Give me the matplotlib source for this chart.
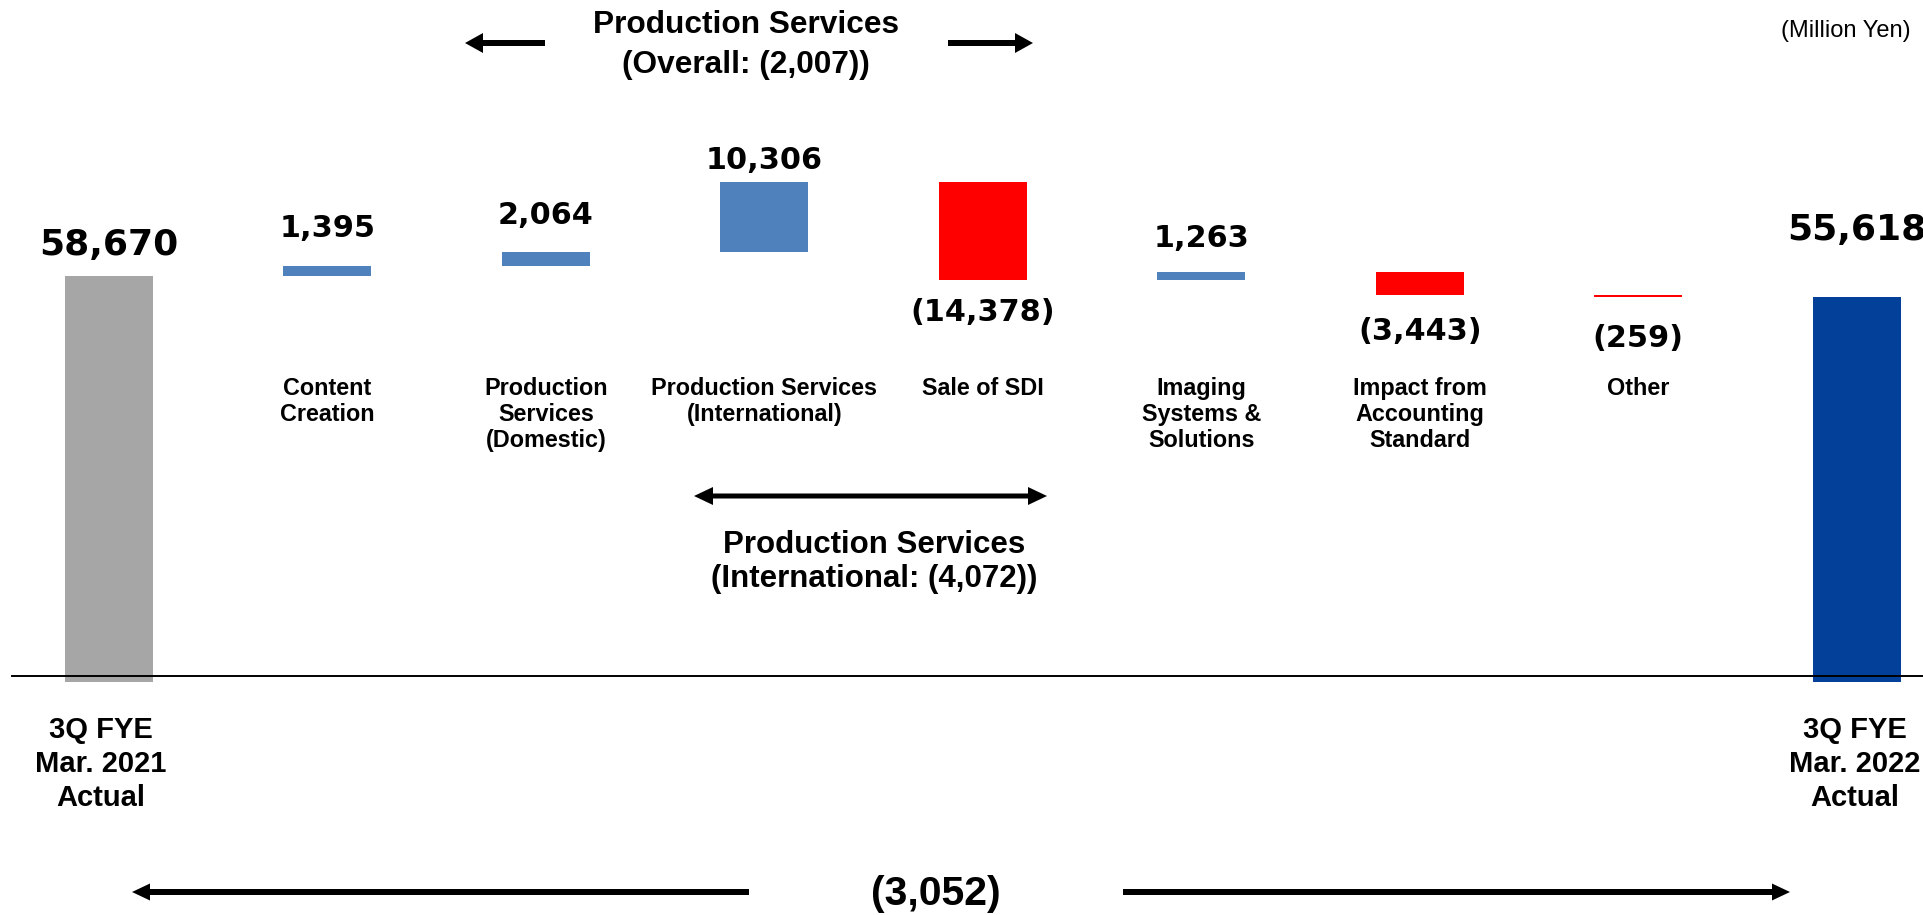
import matplotlib
matplotlib.use("Agg")
import matplotlib.pyplot as plt
from matplotlib.patches import FancyArrow, Polygon
import numpy as np

# ---------------- data ----------------
start_label = ["3Q FYE", "Mar. 2021", "Actual"]
end_label = ["3Q FYE", "Mar. 2022", "Actual"]
start_value = 58670
end_value = 55618
step_categories = [
    ["Content", "Creation"],
    ["Production", "Services", "(Domestic)"],
    ["Production Services", "(International)"],
    ["Sale of SDI"],
    ["Imaging", "Systems &", "Solutions"],
    ["Impact from", "Accounting", "Standard"],
    ["Other"],
]
step_values = [1395, 2064, 10306, -14378, 1263, -3443, -259]
overall_title = ["Production Services", "(Overall: (2,007))"]
intl_title = ["Production Services", "(International: (4,072))"]
total_change_label = "(3,052)"
unit_label = "(Million Yen)"

# ---------------- style ----------------
W, H, DPI = 1924, 915, 100
C_START = "#A6A6A6"
C_END = "#02409A"
C_UP = "#4F81BD"
C_DOWN = "#FF0000"
ARIAL = ["Liberation Sans", "DejaVu Sans"]
VERDANA = ["DejaVu Sans"]

PX_PER_X = 218.45          # px between bar centres
X0_PX = 109                # px of first bar centre
BASE_PX = 676              # baseline, px from top
PX_PER_VAL = 400 / 58670   # px per million yen
BAR_W = 0.403
OVERHANG = 6 / PX_PER_VAL  # total bars run a little below the baseline
# label baseline offsets (px) from bar end; positive = above the top
label_offsets_px = [21, 29.5, 28, 13.5, -40.7, 24.3, -45, -50, 56.7]


def fmt(v):
    return f"{v:,}" if v >= 0 else f"({-v:,})"


fig = plt.figure(figsize=(W / DPI, H / DPI), dpi=DPI)
fig.patch.set_facecolor("white")
ax = fig.add_axes([0, 0, 1, 1])
ax.set_xlim(-X0_PX / PX_PER_X, (W - X0_PX) / PX_PER_X)
ax.set_ylim(-(H - BASE_PX) / PX_PER_VAL, BASE_PX / PX_PER_VAL)
ax.axis("off")

pax = fig.add_axes([0, 0, 1, 1], zorder=3)
pax.set_xlim(0, W)
pax.set_ylim(H, 0)
pax.axis("off")
pax.patch.set_alpha(0)

n_steps = len(step_values)
xs = np.arange(n_steps + 2)

# waterfall geometry
cum = start_value + np.cumsum(step_values)
prev = np.concatenate([[start_value], cum[:-1]])
bottoms = np.minimum(prev, cum)
heights = np.abs(step_values)
colors = [C_UP if v > 0 else C_DOWN for v in step_values]

ax.bar(xs[0], start_value + OVERHANG, bottom=-OVERHANG, width=BAR_W,
       color=C_START, linewidth=0, zorder=2)
ax.bar(xs[1:-1], heights, bottom=bottoms, width=BAR_W, color=colors,
       linewidth=0, zorder=2)
ax.bar(xs[-1], end_value + OVERHANG, bottom=-OVERHANG, width=BAR_W,
       color=C_END, linewidth=0, zorder=2)

# baseline
pax.plot([12, W], [BASE_PX, BASE_PX], color="black", lw=1.4, zorder=4)

# value labels
all_vals = [start_value] + step_values + [end_value]
anchors = [start_value] + [max(p, c) if v > 0 else min(p, c)
                           for p, c, v in zip(prev, cum, step_values)] + [end_value]
for i, (v, a, off) in enumerate(zip(all_vals, anchors, label_offsets_px)):
    big = i in (0, len(all_vals) - 1)
    ax.annotate(fmt(v), xy=(xs[i], a), xytext=(0, off * 0.72),
                textcoords="offset points", ha="center", va="baseline",
                fontsize=26 if big else 21.8, fontweight="bold",
                family=VERDANA, color="black", zorder=5)

# category labels
xt = ax.get_xaxis_transform()
for i, lines in enumerate(step_categories):
    for j, line in enumerate(lines):
        ax.text(xs[i + 1], 1 - (395 + 26 * j) / H, line, transform=xt,
                ha="center", va="baseline", fontsize=16.8,
                fontweight="bold", family=ARIAL)

# start / end labels
for cx, lines in ((101, start_label), (1855, end_label)):
    for j, line in enumerate(lines):
        pax.text(cx, 738 + 33.8 * j, line, ha="center", va="baseline",
                 fontsize=21, fontweight="bold", family=ARIAL)

# annotations
for j, line in enumerate(overall_title):
    pax.text(746, [33.3, 72.7][j], line, ha="center", va="baseline",
             fontsize=22.8, fontweight="bold", family=ARIAL)
for j, line in enumerate(intl_title):
    pax.text(874, [553, 587][j], line, ha="center", va="baseline",
             fontsize=22.5, fontweight="bold", family=ARIAL)
pax.text(936, 905, total_change_label, ha="center", va="baseline",
         fontsize=29.5, fontweight="bold", family=ARIAL)
pax.text(1846, 36.5, unit_label, ha="center", va="baseline",
         fontsize=17, family=ARIAL)


def arrow(x_tail, x_tip, y, shaft=6, hw=20, hl=18):
    pax.add_patch(FancyArrow(x_tail, y, x_tip - x_tail, 0, width=shaft,
                             head_width=hw, head_length=hl,
                             length_includes_head=True, color="black",
                             linewidth=0, zorder=5))


def double_arrow(x0, x1, y, shaft=5, hw=18, hl=19):
    s, h = shaft / 2, hw / 2
    pts = [(x0, y), (x0 + hl, y - h), (x0 + hl, y - s), (x1 - hl, y - s),
           (x1 - hl, y - h), (x1, y), (x1 - hl, y + h), (x1 - hl, y + s),
           (x0 + hl, y + s), (x0 + hl, y + h)]
    pax.add_patch(Polygon(pts, closed=True, facecolor="black",
                          edgecolor="none", zorder=5))


arrow(545, 465, 43)
arrow(948, 1033, 43)
double_arrow(694, 1047, 496)
arrow(749, 132, 892, hw=17)
arrow(1123, 1790, 892, hw=17)

fig.savefig("out.png", dpi=DPI, facecolor="white")
